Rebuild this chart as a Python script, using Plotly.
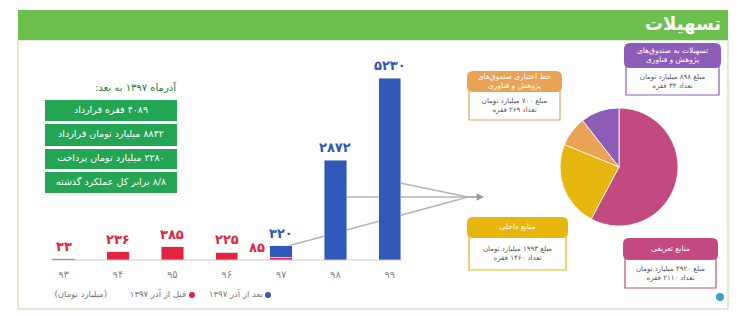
import plotly.graph_objects as go

W, H = 746, 316
FONT = "DejaVu Sans"

years = [93, 94, 95, 96, 97, 98, 99]
before_azar = [33, 236, 385, 225, 85, 0, 0]
after_azar = [0, 0, 0, 0, 320, 2872, 5230]
series_names = ["قبل از آذر ۱۳۹۷", "بعد از آذر ۱۳۹۷"]
unit_label = "(میلیارد تومان)"

summary_title = "آذرماه ۱۳۹۷ به بعد:"
summary_lines = ["۴۰۸۹ فقره قرارداد", "۸۸۴۲ میلیارد تومان قرارداد",
                 "۲۲۸۰ میلیارد تومان پرداخت", "۸/۸ برابر کل عملکرد گذشته"]

pie_labels = ["منابع تعریفی", "منابع داخلی", "خط اعتباری صندوق‌های<br>پژوهش و فناوری",
              "تسهیلات به صندوق‌های<br>پژوهش و فناوری"]
pie_amounts = [4920, 1993, 700, 898]
pie_counts = [2110, 1460, 269, 34]
pie_colors = ["#c24a80", "#e6b60f", "#eaa354", "#8d5cb6"]

RED = "#e5233f"
BLUE = "#2f58b8"
GREEN = "#23a553"
RLM = "\u200f"

def fa(s):
    return str(s).translate(str.maketrans("0123456789", "۰۱۲۳۴۵۶۷۸۹"))

def px(x):
    return x / W

def py(y):
    return 1 - y / H

def rrect(x0, y0, x1, y1, r):
    pts = [f"M {px(x0+r)},{py(y0)}", f"L {px(x1-r)},{py(y0)}",
           f"Q {px(x1)},{py(y0)} {px(x1)},{py(y0+r)}", f"L {px(x1)},{py(y1-r)}",
           f"Q {px(x1)},{py(y1)} {px(x1-r)},{py(y1)}", f"L {px(x0+r)},{py(y1)}",
           f"Q {px(x0)},{py(y1)} {px(x0)},{py(y1-r)}", f"L {px(x0)},{py(y0+r)}",
           f"Q {px(x0)},{py(y0)} {px(x0+r)},{py(y0)}", "Z"]
    return " ".join(pts)

fig = go.Figure()

cats = [fa(y) for y in years]
xi = list(range(len(years)))
fig.add_trace(go.Bar(x=xi, y=before_azar, marker_color=RED, width=0.41,
                     name=series_names[0], showlegend=False, xaxis="x", yaxis="y"))
fig.add_trace(go.Bar(x=xi, y=after_azar, marker_color=BLUE, width=0.41,
                     name=series_names[1], showlegend=False, xaxis="x", yaxis="y"))

fig.add_trace(go.Pie(values=pie_amounts, labels=pie_labels, marker=dict(colors=pie_colors,
                     line=dict(color="white", width=0.8)),
                     sort=False, direction="clockwise", rotation=0, textinfo="none",
                     hoverinfo="label+value", showlegend=False,
                     domain=dict(x=[px(560), px(678)], y=[py(226), py(108)])))

def txt(x, y, s, size, color, pos="middle center", bold=False):
    t = f"<b>{s}</b>" if bold else s
    fig.add_trace(go.Scatter(x=[x], y=[y], mode="text", text=[t], textposition=pos,
                             textfont=dict(size=size, color=color, family=FONT),
                             cliponaxis=False, showlegend=False, hoverinfo="skip",
                             xaxis="x2", yaxis="y2"))

annotations = []
shapes = []

# value labels (numbers only)
for i in xi:
    b, a = before_azar[i], after_azar[i]
    if b and not a:
        annotations.append(dict(x=i, y=b, xref="x", yref="y", text=f"<b>{fa(b)}</b>",
                                showarrow=False, yanchor="bottom", yshift=3,
                                font=dict(color=RED, size=13, family=FONT)))
    elif b and a:
        annotations.append(dict(x=i, y=b + a / 2, xref="x", yref="y", text=f"<b>{fa(b)}</b>",
                                showarrow=False, xanchor="right", xshift=-14, yshift=4,
                                font=dict(color=RED, size=13, family=FONT)))
    if a:
        annotations.append(dict(x=i, y=a + b, xref="x", yref="y", text=f"<b>{fa(a)}</b>",
                                showarrow=False, yanchor="bottom", yshift=3,
                                font=dict(color=BLUE, size=13, family=FONT)))

# title bar and panel
shapes.append(dict(type="rect", xref="paper", yref="paper", x0=px(18), x1=px(728),
                   y0=py(309), y1=py(40), line=dict(color="#cfe8c3", width=1.5),
                   fillcolor="white", layer="below"))
shapes.append(dict(type="rect", xref="paper", yref="paper", x0=px(18), x1=px(728),
                   y0=py(40), y1=py(10), line=dict(width=0), fillcolor="#6cbf4d", layer="below"))
txt(721, 25, "تسهیلات", 18, "white", "middle left", bold=True)

# summary boxes
txt(176, 88, summary_title + RLM, 10, "#1d7a3e", "middle left")
box_y = [(100, 121), (124, 146), (149, 169), (172, 193)]
for (y0, y1), t in zip(box_y, summary_lines):
    shapes.append(dict(type="rect", xref="paper", yref="paper", x0=px(45), x1=px(177),
                       y0=py(y1), y1=py(y0), fillcolor=GREEN, line=dict(width=0), layer="below"))
    txt(111, (y0 + y1) / 2, RLM + t, 9.5, "white")

# connector lines and arrow
line_style = dict(color="#b5b5b5", width=1.5)
tip = (468, 197)
for (sx, sy) in [(288, 246), (345, 197), (400, 183)]:
    shapes.append(dict(type="line", xref="paper", yref="paper", x0=px(sx), y0=py(sy),
                       x1=px(tip[0]), y1=py(tip[1]), line=line_style, layer="below"))
annotations.append(dict(x=px(484), y=py(197), ax=-18, ay=0, xref="paper", yref="paper",
                        axref="pixel", ayref="pixel", text="", showarrow=True, arrowhead=2,
                        arrowsize=1, arrowwidth=1.5, arrowcolor="#9a9a9a"))

# pie label boxes: (x0, x1, header y0, header y1, body y1)
boxes = [
    (623, 718, 238, 260, 288),
    (467, 568, 217, 238, 270),
    (467, 562, 71, 92, 120),
    (624, 721, 43, 68, 95),
]
for k, (x0, x1, h0, h1, b1) in enumerate(boxes):
    col = pie_colors[k]
    shapes.append(dict(type="rect", xref="paper", yref="paper", x0=px(x0 + 2), x1=px(x1 - 2),
                       y0=py(b1), y1=py(h1 - 3), fillcolor="white",
                       line=dict(color=col, width=1.2), layer="below"))
    shapes.append(dict(type="path", xref="paper", yref="paper", path=rrect(x0, h0, x1, h1, 6),
                       fillcolor=col, line=dict(width=0), layer="below"))
    txt((x0 + x1) / 2, (h0 + h1) / 2, pie_labels[k], 7.5, "white")
    body = f"مبلغ {fa(pie_amounts[k])} میلیارد تومان<br>تعداد {fa(pie_counts[k])} فقره"
    txt((x0 + x1) / 2, (h1 + b1) / 2, body, 7, "#555")

# legend (custom, RTL)
txt(263, 295, series_names[1], 8.5, "#777", "middle left")
txt(186, 295, series_names[0], 8.5, "#777", "middle left")
txt(107, 295, unit_label, 8.5, "#777", "middle left")
for cx, col in [(268, BLUE), (192, RED)]:
    shapes.append(dict(type="circle", xref="paper", yref="paper", x0=px(cx - 3), x1=px(cx + 3),
                       y0=py(298), y1=py(292), fillcolor=col, line=dict(width=0)))

# small logo mark
shapes.append(dict(type="circle", xref="paper", yref="paper", x0=px(716), x1=px(724),
                   y0=py(301), y1=py(293), fillcolor="#3aa0c8", line=dict(width=0)))

fig.update_layout(
    width=W, height=H, margin=dict(l=0, r=0, t=0, b=0),
    paper_bgcolor="white", plot_bgcolor="rgba(0,0,0,0)",
    barmode="stack",
    font=dict(family=FONT),
    xaxis=dict(domain=[px(31), px(417)], range=[-0.6, 6.5], tickmode="array",
               tickvals=xi, ticktext=cats, showgrid=False, zeroline=False,
               showline=False, ticks="", ticklabelstandoff=7,
               tickfont=dict(color="#888", size=10, family=FONT),
               fixedrange=True),
    yaxis=dict(domain=[py(260), py(60)], range=[0, 5750], visible=False, fixedrange=True),
    xaxis2=dict(domain=[0, 1], range=[0, W], visible=False, anchor="y2", fixedrange=True),
    yaxis2=dict(domain=[0, 1], range=[H, 0], visible=False, anchor="x2", fixedrange=True),
    shapes=shapes + [dict(type="line", xref="paper", yref="paper", x0=px(52), x1=px(402),
                          y0=py(260), y1=py(260), line=dict(color="#c8c8c8", width=1))],
    annotations=annotations,
)

fig.write_html("out.html", config={"displayModeBar": False},
               post_script="document.body.style.margin='0';")
